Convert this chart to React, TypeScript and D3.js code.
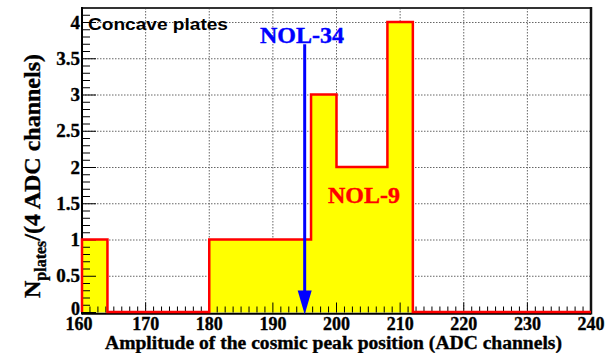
import React from "react";
import * as d3 from "d3";

const binStart = 160;
const binWidth = 4;
const counts = [1, 0, 0, 0, 0, 1, 1, 1, 1, 3, 2, 2, 4, 0, 0, 0, 0, 0, 0, 0];
const xTicks = [160, 170, 180, 190, 200, 210, 220, 230, 240];
const yTicks = [0, 0.5, 1, 1.5, 2, 2.5, 3, 3.5, 4];
const yTickLabels = ["0", "0.5", "1", "1.5", "2", "2.5", "3", "3.5", "4"];
const arrowValue = 195;
const arrowTopValue = 3.7;

const W = 613, H = 353;
const L = 82, R = 591, T = 8, B = 312.5;
const serif = "'Liberation Serif', 'Times New Roman', serif";
const sans = "'Liberation Sans', Arial, sans-serif";

export default function App() {
  const x = d3.scaleLinear().domain([160, 240]).range([L, R]);
  const y = d3.scaleLinear().domain([0, 4.2]).range([B, T]);

  const pts: [number, number][] = counts.map((c, i) => [binStart + i * binWidth, c]);
  pts.push([binStart + counts.length * binWidth, counts[counts.length - 1]]);

  const area = d3.area<[number, number]>().x(d => x(d[0])).y0(y(0)).y1(d => y(d[1])).curve(d3.curveStepAfter);
  const line = d3.line<[number, number]>().x(d => x(d[0])).y(d => y(d[1]) - 0.5).curve(d3.curveStepAfter);
  const outline = [[binStart, 0] as [number, number], ...pts];

  const xMinor: number[] = d3.range(160, 240.001, 1.25);
  const yMinor: number[] = d3.range(0, 4.2, 0.1);
  const isHalf = (v: number) => Math.abs(v * 2 - Math.round(v * 2)) < 0.01;

  const ax = x(arrowValue);
  const bold = { fontFamily: serif, fontWeight: "bold" as const, stroke: "#000", strokeWidth: 0.35 };
  return (
    <svg width={W} height={H} style={{ display: "block", position: "absolute", left: 0, top: 0 }}>
      <rect width={W} height={H} fill="#fff" />
      {/* grid */}
      {xTicks.slice(1, -1).map(v => (
        <line key={"gx" + v} x1={x(v)} x2={x(v)} y1={T} y2={B} stroke="#666" strokeWidth={1} strokeDasharray="1.5,1.5" />
      ))}
      {yTicks.slice(1).map(v => (
        <line key={"gy" + v} x1={L} x2={R} y1={y(v)} y2={y(v)} stroke="#666" strokeWidth={1} strokeDasharray="1.5,1.5" />
      ))}
      {/* histogram */}
      <path d={area(pts) || ""} fill="#ffff00" />
      {/* ticks */}
      {xMinor.map((v, i) => (
        <line key={"xm" + i} x1={x(v)} x2={x(v)} y1={B} y2={B - (Math.abs(v % 10) < 0.01 ? 10 : 6)} stroke="#000" strokeWidth={1} />
      ))}
      {yMinor.map((v, i) => (
        <line key={"ym" + i} x1={L} x2={L + (isHalf(v) ? 14 : 8)} y1={y(v)} y2={y(v)} stroke="#000" strokeWidth={1} />
      ))}
      {/* frame */}
      <line x1={L} x2={R} y1={T} y2={T} stroke="#333" strokeWidth={2} />
      <line x1={R} x2={R} y1={T - 1} y2={B + 2} stroke="#111" strokeWidth={2.5} />
      <line x1={L} x2={L} y1={T - 1} y2={B + 2} stroke="#000" strokeWidth={2} />
      <line x1={L} x2={R} y1={B + 1.2} y2={B + 1.2} stroke="#000" strokeWidth={2} />
      <path d={line(outline) || ""} fill="none" stroke="#ff0000" strokeWidth={2.5} />
      {/* arrow */}
      <line x1={ax} x2={ax} y1={y(arrowTopValue)} y2={B - 18} stroke="#0000ff" strokeWidth={3} />
      <path d={`M${ax - 7},${B - 22} L${ax + 7},${B - 22} L${ax},${B + 2} Z`} fill="#0000ff" />
      {/* labels */}
      <text x={260} y={43} fontFamily={serif} fontWeight="bold" fontSize={24} fill="#0000ff" stroke="#0000ff" strokeWidth={0.4}>NOL-34</text>
      <text x={328} y={203} fontFamily={serif} fontWeight="bold" fontSize={24} fill="#ff0000" stroke="#ff0000" strokeWidth={0.4}>NOL-9</text>
      <text x={88} y={30} fontFamily={sans} fontWeight="bold" fontSize={17} fill="#000" textLength={140} lengthAdjust="spacingAndGlyphs">Concave plates</text>
      {/* x tick labels */}
      {xTicks.map(v => (
        <text key={"xl" + v} x={x(v) - (v === 160 ? 3 : 0)} y={330} textAnchor="middle" fontSize={18} {...bold}>{v}</text>
      ))}
      {yTicks.map((v, i) => (
        <text key={"yl" + v} x={80} y={y(v) + (v === 0 ? 2 : 6)} textAnchor="end" fontSize={v === 0 ? 18 : 19} {...bold}>{yTickLabels[i]}</text>
      ))}
      <text x={105} y={349} fontSize={18} textLength={457} lengthAdjust="spacingAndGlyphs" {...bold}>Amplitude of the cosmic peak position (ADC channels)</text>
      <text transform={`translate(40,${176}) rotate(-90)`} textAnchor="middle" fontSize={24} {...bold}>
        N<tspan fontSize={16} dy={6}>plates</tspan><tspan dy={-6}>/(4 ADC channels)</tspan>
      </text>
    </svg>
  );
}
